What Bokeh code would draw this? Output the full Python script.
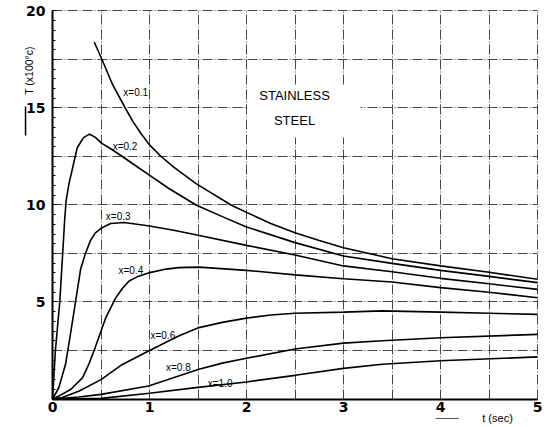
from bokeh.plotting import figure
from bokeh.models import Range1d, FixedTicker, Label, Arrow, BoxAnnotation, ColumnDataSource
from bokeh.core.properties import value
from bokeh.embed import file_html
from bokeh.resources import INLINE

# ---- data ----
t_01 = [0.43, 0.51, 0.62, 0.75, 0.83, 0.91, 1.0, 1.12, 1.25, 1.48, 1.84, 2.0, 2.25, 2.5, 2.75, 3.0, 3.5, 4.0, 4.5, 5.0]
T_01 = [18.4, 17.5, 16.2, 15.0, 14.3, 13.7, 13.1, 12.5, 11.95, 11.1, 10.0, 9.62, 9.05, 8.57, 8.17, 7.8, 7.23, 6.86, 6.53, 6.17]

t_02 = [0, 0.03, 0.075, 0.105, 0.125, 0.14, 0.17, 0.2, 0.255, 0.32, 0.38, 0.44, 0.5, 0.6, 0.72, 0.85, 0.98, 1.2, 1.48, 1.75, 2.0, 2.5, 3.0, 3.5, 4.0, 4.5, 5.0]
T_02 = [0, 2.5, 5.0, 7.5, 9.2, 10.2, 11.1, 11.75, 12.95, 13.47, 13.65, 13.5, 13.2, 12.9, 12.5, 12.05, 11.6, 10.85, 10.0, 9.4, 8.87, 8.06, 7.37, 6.99, 6.63, 6.32, 6.0]

t_03 = [0, 0.065, 0.135, 0.19, 0.24, 0.29, 0.34, 0.39, 0.44, 0.5, 0.6, 0.74, 1.0, 1.25, 1.49, 2.0, 2.5, 3.0, 3.5, 4.0, 4.5, 5.0]
T_03 = [0, 0.58, 1.8, 3.5, 5.1, 6.7, 7.5, 8.15, 8.55, 8.8, 9.05, 9.1, 8.92, 8.7, 8.45, 7.92, 7.42, 6.86, 6.56, 6.22, 5.94, 5.65]

t_04 = [0, 0.065, 0.19, 0.31, 0.375, 0.44, 0.55, 0.65, 0.72, 0.79, 0.88, 0.99, 1.15, 1.3, 1.51, 2.0, 2.5, 3.0, 3.5, 4.0, 4.5, 5.0]
T_04 = [0, 0.15, 0.5, 1.1, 1.8, 2.65, 4.2, 5.2, 5.7, 6.08, 6.32, 6.5, 6.68, 6.77, 6.8, 6.63, 6.4, 6.2, 6.03, 5.74, 5.5, 5.22]

t_06 = [0, 0.1, 0.27, 0.5, 0.72, 0.99, 1.3, 1.51, 1.75, 2.0, 2.25, 2.5, 3.0, 3.4, 4.0, 4.5, 5.0]
T_06 = [0, 0.08, 0.4, 1.0, 1.78, 2.47, 3.25, 3.68, 3.95, 4.17, 4.33, 4.42, 4.48, 4.54, 4.48, 4.42, 4.36]

t_08 = [0, 0.27, 0.5, 0.99, 1.3, 1.51, 1.75, 2.0, 2.5, 3.0, 3.4, 4.0, 5.0]
T_08 = [0, 0.1, 0.24, 0.67, 1.19, 1.53, 1.85, 2.1, 2.58, 2.88, 3.0, 3.16, 3.33]

t_10 = [0, 0.5, 1.0, 1.5, 2.0, 2.5, 3.0, 3.4, 4.0, 5.0]
T_10 = [0, 0.03, 0.3, 0.6, 0.88, 1.22, 1.58, 1.79, 1.97, 2.17]

curve_t = [t_01, t_02, t_03, t_04, t_06, t_08, t_10]
curve_T = [T_01, T_02, T_03, T_04, T_06, T_08, T_10]

curve_labels = ["x=0.1", "x=0.2", "x=0.3", "x=0.4", "x=0.6", "x=0.8", "x=1.0"]
label_t = [0.73, 0.62, 0.55, 0.68, 1.01, 1.17, 1.6]
label_T = [15.8, 13.0, 9.4, 6.6, 3.25, 1.6, 0.82]

x_ticks = [0, 1, 2, 3, 4, 5]
y_ticks = [0, 5, 10, 15, 20]
x_grid = [0.5, 1, 1.5, 2, 2.5, 3, 3.5, 4, 4.5, 5]
y_grid = [2.5, 5, 7.5, 10, 12.5, 15, 17.5, 20]
y_minor = [i * 0.5 for i in range(41) if (i * 0.5) % 5 != 0]

# ---- figure: the frame covers the whole canvas, axes sit at t=0 / T=0 ----
p = figure(width=548, height=427,
           x_range=Range1d(-0.5361, 5.1134), y_range=Range1d(-1.469, 20.541),
           output_backend="svg", toolbar_location=None, min_border=0)
p.background_fill_color = "white"
p.border_fill_color = "white"
p.outline_line_color = None

for ax in (p.xaxis[0], p.yaxis[0]):
    ax.fixed_location = 0
    ax.axis_line_color = "black"
    ax.axis_line_width = 2
    ax.major_label_text_font = "DejaVu Sans"
    ax.major_label_text_font_style = "bold"
    ax.major_label_text_font_size = "14px"
    ax.major_label_text_color = "black"
    ax.major_tick_line_color = "black"

p.xaxis.bounds = (0, 5)
p.yaxis.bounds = (0, 20)
p.xaxis.ticker = FixedTicker(ticks=x_ticks)
p.yaxis.ticker = FixedTicker(ticks=y_ticks, minor_ticks=y_minor)
p.xaxis.major_tick_in = 0
p.xaxis.major_tick_out = 0
p.xaxis.minor_tick_line_color = None
p.xaxis.major_label_standoff = 3
p.yaxis.major_tick_in = 4
p.yaxis.major_tick_out = 0
p.yaxis.minor_tick_in = 3
p.yaxis.minor_tick_out = 0
p.yaxis.minor_tick_line_color = "black"
p.yaxis.major_label_standoff = 7
p.yaxis.major_label_overrides = {0: ""}

p.xgrid.ticker = FixedTicker(ticks=x_grid)
p.ygrid.ticker = FixedTicker(ticks=y_grid)
p.xgrid.cross_bounds = (0, 20)
p.ygrid.cross_bounds = (0, 5)
for g in (p.xgrid[0], p.ygrid[0]):
    g.grid_line_color = "#333333"
    g.grid_line_dash = "10 2 1 2"
    g.grid_line_width = 1
    g.grid_line_alpha = 0.9

# blank region behind the material name
p.add_layout(BoxAnnotation(left=2.01, right=3.175, bottom=13.48, top=16.16,
                           fill_color="white", fill_alpha=1.0, line_alpha=0))

for ts, Ts in zip(curve_t, curve_T):
    p.line(ts, Ts, line_color="black", line_width=1.6)

src = ColumnDataSource(dict(x=label_t, y=label_T, text=curve_labels))
p.text(x="x", y="y", text="text", source=src, text_font=value("Liberation Sans"),
       text_font_size="10px", text_color="black", text_align="left", text_baseline="middle")

p.add_layout(Label(x=2.495, y=15.64, text="STAINLESS", text_font="Liberation Sans",
                   text_font_size="13px", text_align="center", text_baseline="middle",
                   text_color="black"))
p.add_layout(Label(x=2.495, y=14.36, text="STEEL", text_font="Liberation Sans",
                   text_font_size="13px", text_align="center", text_baseline="middle",
                   text_color="black"))

# axis titles
p.add_layout(Label(x=-0.247, y=16.93, text="T (x100°c)", text_font="Liberation Sans",
                   text_font_size="10.5px", angle=1.5708, text_align="center",
                   text_baseline="middle", text_color="black"))
p.add_layout(Arrow(end=None, x_start=-0.278, y_start=13.58, x_end=-0.278, y_end=15.08,
                   line_color="black", line_width=1.5))
p.add_layout(Label(x=4.588, y=-0.954, text="t (sec)", text_font="Liberation Sans",
                   text_font_size="11px", text_align="center", text_baseline="middle",
                   text_color="black"))
p.add_layout(Arrow(end=None, x_start=3.95, y_start=-1.005, x_end=4.19, y_end=-1.005,
                   line_color="#555555", line_width=1))

open("out.html", "w").write(file_html(p, INLINE))
